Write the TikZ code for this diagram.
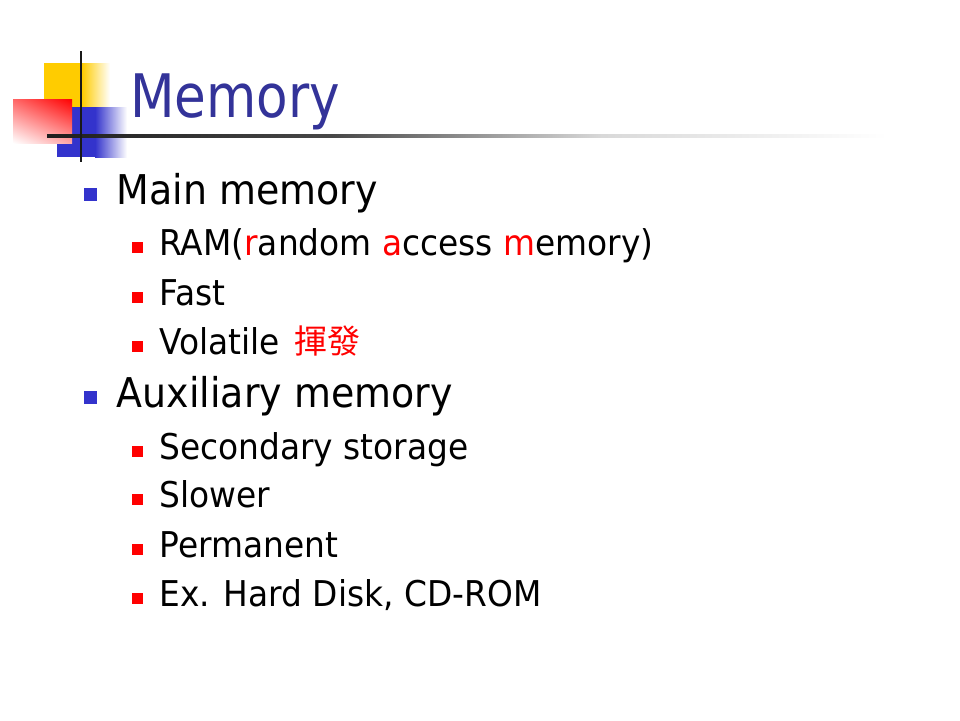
\documentclass[tikz,border=0pt]{standalone}
\usepackage{fontspec}
\usetikzlibrary{shadings}
\setmainfont{DejaVu Sans}[FakeStretch=0.925]
\newfontfamily\titlefont{DejaVu Sans}[FakeStretch=0.86]
\newfontfamily\cjk{Noto Sans CJK TC}
\definecolor{titleblue}{RGB}{51,51,153}
\definecolor{bulblue}{RGB}{51,51,204}
\definecolor{decoyellow}{RGB}{255,204,0}
\definecolor{decoblue}{RGB}{51,51,204}
\definecolor{bulred}{RGB}{255,0,0}
\pgfdeclarehorizontalshading{hrulefade}{100bp}{color(0bp)=(black!88); color(25bp)=(black!88); color(42bp)=(black!72); color(58bp)=(black!15); color(75bp)=(white); color(100bp)=(white)}
\tikzset{
  titletext/.style={anchor=base west, inner sep=0pt, text=titleblue, font=\titlefont\fontsize{60}{60}\selectfont},
  maintext/.style={anchor=base west, inner sep=0pt, text=black, font=\fontsize{41}{41}\selectfont},
  subtext/.style={anchor=base west, inner sep=0pt, text=black, font=\fontsize{35.5}{35.5}\selectfont},
  zhtext/.style={anchor=base west, inner sep=0pt, text=red, font=\cjk\fontsize{33}{33}\selectfont},
  mainbullet/.style={fill=bulblue, draw=none},
  subbullet/.style={fill=bulred, draw=none},
}
\newcommand{\mbul}[1]{\fill[mainbullet] (84,#1-16) rectangle (97,#1-3);}
\newcommand{\sbul}[1]{\fill[subbullet] (132,#1-13.5) rectangle (143,#1-2.5);}
\begin{document}
\begin{tikzpicture}[x=1pt,y=-1pt]
\useasboundingbox (0,0) rectangle (960,720);
\fill[white] (0,0) rectangle (960,720);
% decoration
\fill[decoyellow] (44,63) rectangle (82,107);
\shade[left color=decoyellow, right color=white] (82,63) rectangle (110,107);
\fill[decoblue] (57,107) rectangle (95,157);
\shade[left color=decoblue, right color=white] (95,107) rectangle (127,157);
\shade[upper left=red!60, upper right=red, lower left=white, lower right=red!35] (13,99) rectangle (72,143);
\shade[shading=hrulefade] (47,134.3) rectangle (887,137.5);
\draw[line width=2.3pt, black!90] (81,51) -- (81,162);
% title
\node[titletext] (title) at (130,117) {Memory};
% level 1
\mbul{204}
\node[maintext] (main) at (116.5,204) {Main memory};
\sbul{255}
\node[subtext] (ram) at (159.2,255) {RAM(\textcolor{red}{r}andom \textcolor{red}{a}ccess \textcolor{red}{m}emory)};
\sbul{305}
\node[subtext] (fast) at (159.2,305) {Fast};
\sbul{354}
\node[subtext] (vol) at (159.2,354) {Volatile};
\node[zhtext] (volzh) at (294,353) {揮發};
\mbul{407}
\node[maintext] (aux) at (116.5,407) {Auxiliary memory};
\sbul{459}
\node[subtext] (sec) at (159.2,459) {Secondary storage};
\sbul{507}
\node[subtext] (slow) at (159.2,507) {Slower};
\sbul{557}
\node[subtext] (perm) at (159.2,557) {Permanent};
\sbul{606}
\node[subtext] (ex) at (159.2,606) {Ex. Hard Disk, CD-ROM};
\end{tikzpicture}
\end{document}
